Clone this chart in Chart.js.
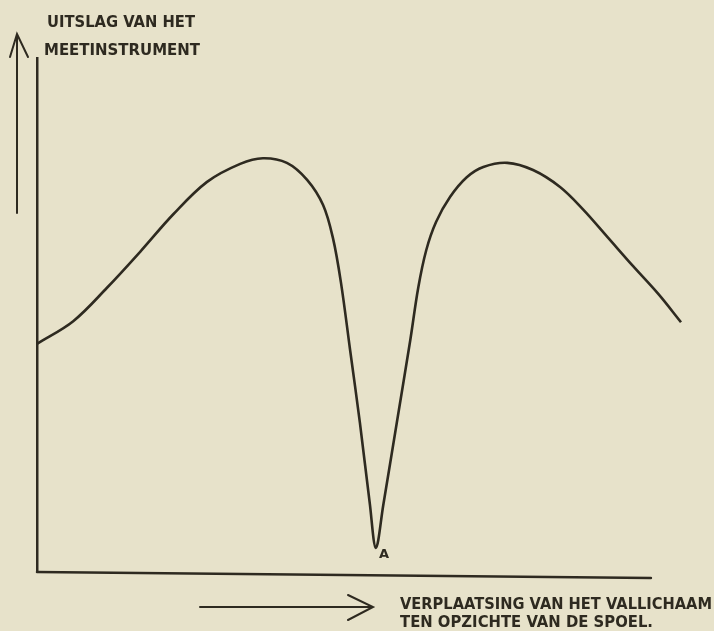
<!DOCTYPE html>
<html>
<head>
<meta charset="utf-8">
<script src="https://cdn.jsdelivr.net/npm/chart.js@4/dist/chart.umd.min.js"></script>
<style>
  html, body { margin: 0; padding: 0; background: #e7e2ca; }
  #wrap { width: 714px; height: 631px; }
</style>
</head>
<body>
<div id="wrap"><canvas id="myChart"></canvas></div>
<script>
// verplaatsing (x) en uitslag (y)
const displacement = [0, 5.9, 11.4, 16.8, 22.2, 27.7, 33.1, 36.8, 40.7, 44.0, 46.6, 48.2, 49.5, 51.0, 52.6, 54.2, 55.2,
    56.4, 58.6, 60.8, 62.1, 63.4, 65.0, 67.3, 70.0, 72.7, 76.6, 80.8, 85.2, 88.9, 92.9, 97.1, 101.2, 104.9];
const deflection = [44.4, 48.8, 55.3, 62.3, 69.6, 75.9, 79.4, 80.5, 79.6, 76.3, 71.4, 65.0, 56.4, 43.2, 29.0, 13.4, 4.7,
    13.0, 29.0, 45.1, 55.3, 62.6, 68.1, 73.0, 76.8, 78.8, 79.6, 78.2, 74.9, 70.6, 65.2, 59.5, 54.1, 48.6];
const axisEnd = 100; // de horizontale as loopt tot hier, de kromme iets verder

const yLabel = ["UITSLAG VAN HET", "MEETINSTRUMENT"];
const xLabel = ["VERPLAATSING VAN HET VALLICHAAM", "TEN OPZICHTE VAN DE SPOEL."];
const pointLabel = "A";

const ink = "#2e2a20";

let labels = {
    id: "labels",
    afterDraw: function (chart) {
        let c = chart.ctx;
        let sx = chart.scales.x, sy = chart.scales.y;
        c.save();
        c.fillStyle = ink;
        c.strokeStyle = ink;
        c.lineCap = "round";

        // horizontale as (iets scheef, zoals in de scan)
        c.lineWidth = 2.5;
        c.beginPath();
        c.moveTo(sx.getPixelForValue(0), sy.getPixelForValue(0));
        c.lineTo(sx.getPixelForValue(axisEnd), sy.getPixelForValue(0) + 6);
        c.stroke();

        c.font = "bold 16px 'DejaVu Sans'";
        c.fillText(yLabel[0], 47, 27, 148);
        c.fillText(yLabel[1], 44, 55, 156);

        c.font = "bold 15px 'DejaVu Sans'";
        c.fillText(xLabel[0], 400, 609, 312);
        c.fillText(xLabel[1], 400, 627, 253);

        // pijlen
        c.lineWidth = 2;
        c.beginPath();
        c.moveTo(17, 213); c.lineTo(17, 34);
        c.moveTo(10, 57); c.lineTo(17, 34); c.lineTo(28, 57);
        c.stroke();
        c.beginPath();
        c.moveTo(200, 607); c.lineTo(373, 607);
        c.moveTo(348, 595); c.lineTo(373, 607); c.lineTo(348, 620);
        c.stroke();

        // punt A bij het minimum
        let i = deflection.indexOf(Math.min.apply(null, deflection));
        let px = sx.getPixelForValue(displacement[i]);
        let py = sy.getPixelForValue(deflection[i]);
        c.font = "bold 13px 'DejaVu Sans'";
        c.fillText(pointLabel, px + 3, py + 10);
        c.restore();
    },
};

let ctx = document.getElementById("myChart").getContext("2d");
let chart = new Chart(ctx, {
    type: "line",
    data: {
        datasets: [
            {
                data: displacement.map(function (x, i) {
                    return { x: x, y: deflection[i] };
                }),
                borderColor: ink,
                borderWidth: 2.6,
                pointRadius: 0,
                tension: 0.35,
                clip: false,
            },
        ],
    },
    options: {
        responsive: true,
        maintainAspectRatio: false,
        animation: false,
        layout: { padding: { left: 37, right: 33, top: 58, bottom: 59 } },
        plugins: { legend: { display: false }, tooltip: { enabled: false } },
        scales: {
            x: {
                type: "linear",
                min: 0,
                max: 104.9,
                ticks: { display: false },
                grid: { display: false, drawTicks: false },
                border: { display: false },
            },
            y: {
                min: 0,
                max: 100,
                ticks: { display: false },
                grid: { display: false, drawTicks: false },
                border: { color: ink, width: 2.5 },
            },
        },
    },
    plugins: [labels],
});
</script>
</body>
</html>
